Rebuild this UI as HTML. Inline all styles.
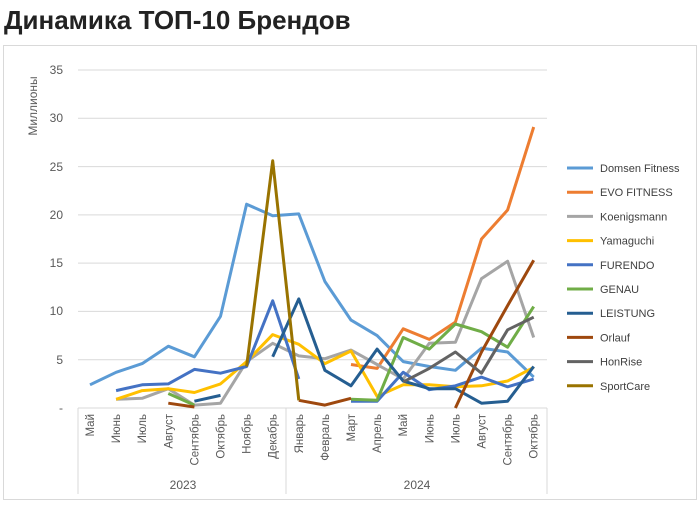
<!DOCTYPE html>
<html><head><meta charset="utf-8"><style>
body{margin:0;background:#fff;width:700px;height:504px;overflow:hidden;font-family:"Liberation Sans","DejaVu Sans",sans-serif}
</style></head><body>
<svg width="700" height="504" xmlns="http://www.w3.org/2000/svg" font-family="Liberation Sans, DejaVu Sans, sans-serif">
<text x="4" y="29" font-size="26" font-weight="bold" fill="#222">Динамика ТОП-10 Брендов</text>
<rect x="3.5" y="45.5" width="693" height="454" fill="none" stroke="#d9d9d9"/>
<g stroke="#d9d9d9" stroke-width="1">
<line x1="78" x2="547" y1="70" y2="70"/><line x1="78" x2="547" y1="118.3" y2="118.3"/>
<line x1="78" x2="547" y1="166.6" y2="166.6"/><line x1="78" x2="547" y1="214.9" y2="214.9"/>
<line x1="78" x2="547" y1="263.1" y2="263.1"/><line x1="78" x2="547" y1="311.4" y2="311.4"/>
<line x1="78" x2="547" y1="359.7" y2="359.7"/>
<line x1="78" x2="547" y1="408" y2="408"/>
<line x1="78" x2="78" y1="408" y2="494"/><line x1="286" x2="286" y1="408" y2="494"/><line x1="547" x2="547" y1="408" y2="494"/>
</g>
<g font-size="12" fill="#595959" text-anchor="end">
<text x="63" y="74">35</text><text x="63" y="122">30</text><text x="63" y="171">25</text><text x="63" y="219">20</text><text x="63" y="267">15</text><text x="63" y="315">10</text><text x="63" y="364">5</text><text x="63" y="412">-</text>
</g>
<text transform="translate(37,106) rotate(-90)" font-size="12" fill="#595959" text-anchor="middle">Миллионы</text>
<g font-size="11.5" fill="#595959" text-anchor="end" id="cats"></g>
<g font-size="12" fill="#595959" text-anchor="middle"><text x="183" y="489">2023</text><text x="417" y="489">2024</text></g>
<g id="lines" fill="none" stroke-width="3" stroke-linejoin="round"></g>
<g id="legend" font-size="11" fill="#404040"></g>
</svg>
<script>
var months=["Май","Июнь","Июль","Август","Сентябрь","Октябрь","Ноябрь","Декабрь","Январь","Февраль","Март","Апрель","Май","Июнь","Июль","Август","Сентябрь","Октябрь"];
var ns="http://www.w3.org/2000/svg";
function X(i){return 90+i*26.1}function Y(v){return 408-v*9.657}
var c=document.getElementById("cats");
months.forEach(function(m,i){var t=document.createElementNS(ns,"text");t.setAttribute("transform","translate("+(X(i)+4)+",414) rotate(-90)");t.textContent=m;c.appendChild(t)});
var N=null;
var S=[
["Domsen Fitness","#5B9BD5",[2.4,3.7,4.6,6.4,5.3,9.5,21.1,19.9,20.1,13.1,9.1,7.5,4.8,4.3,3.9,6.2,5.8,3.2]],
["EVO FITNESS","#ED7D31",[N,N,N,N,N,N,N,N,N,N,4.5,4.1,8.2,7.1,8.9,17.5,20.5,29.1]],
["Koenigsmann","#A5A5A5",[N,0.9,1.0,2.0,0.3,0.5,4.8,6.7,5.4,5.1,6.0,4.5,3.0,6.7,6.8,13.4,15.2,7.3]],
["Yamaguchi","#FFC000",[N,0.9,1.8,2.0,1.6,2.5,4.8,7.6,6.6,4.6,5.9,1.2,2.4,2.4,2.2,2.3,2.8,4.2]],
["FURENDO","#4472C4",[N,1.8,2.4,2.5,4.0,3.6,4.3,11.1,3.0,N,0.7,0.7,3.7,1.9,2.3,3.2,2.2,3.0]],
["GENAU","#70AD47",[N,N,N,1.5,0.3,N,N,N,N,N,0.9,0.8,7.3,6.1,8.7,7.9,6.3,10.5]],
["LEISTUNG","#255E91",[N,N,N,N,0.7,1.3,N,5.3,11.3,3.9,2.3,6.1,2.8,2.0,2.0,0.5,0.7,4.3]],
["Orlauf","#9E480E",[N,N,N,0.5,0.1,N,N,N,0.8,0.3,1.0,N,N,N,0,5.8,10.6,15.3]],
["HonRise","#636363",[N,N,N,N,N,N,N,N,N,N,N,N,2.7,4.1,5.8,3.6,8.1,9.4]],
["SportCare","#997300",[N,N,N,N,N,N,4.3,25.6,0.8,N,N,N,N,N,N,N,N,N]]];
var L=document.getElementById("lines"),G=document.getElementById("legend");
S.forEach(function(s,k){var d="",pen=false;
s[2].forEach(function(v,i){if(v===N){pen=false;return}d+=(pen?"L":"M")+X(i).toFixed(1)+","+Y(v).toFixed(1);pen=true});
var p=document.createElementNS(ns,"path");p.setAttribute("d",d);p.setAttribute("stroke",s[1]);L.appendChild(p);
var y=168+k*24.2;var l=document.createElementNS(ns,"line");l.setAttribute("x1",567);l.setAttribute("x2",593);l.setAttribute("y1",y);l.setAttribute("y2",y);l.setAttribute("stroke",s[1]);l.setAttribute("stroke-width",3);G.appendChild(l);
var t=document.createElementNS(ns,"text");t.setAttribute("x",600);t.setAttribute("y",y+4);t.textContent=s[0];G.appendChild(t)});
</script>
</body></html>
